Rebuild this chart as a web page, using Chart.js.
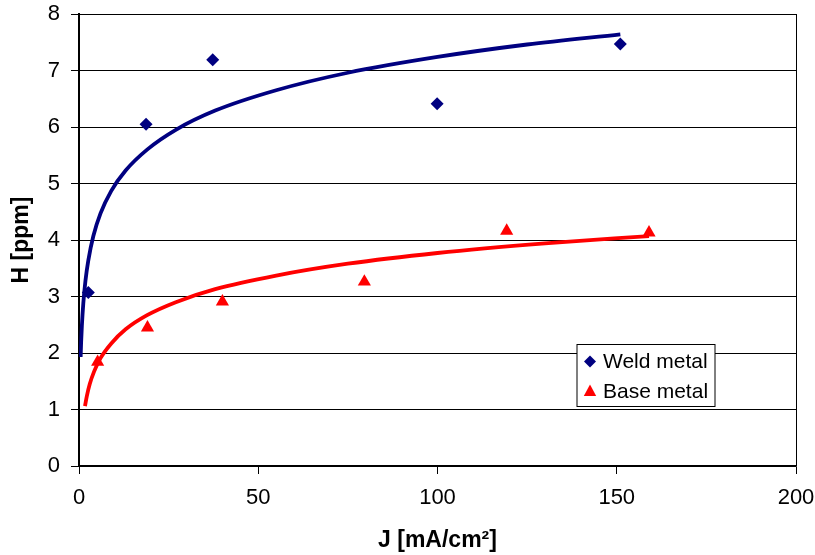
<!DOCTYPE html>
<html lang="en">
<head>
    <meta charset="UTF-8">
    <title>H vs J</title>
    <script src="https://cdn.jsdelivr.net/npm/chart.js"></script>
    <style>
        body { margin: 0; background: #fff; }
        #wrap { width: 815px; height: 555px; }
    </style>
</head>
<body>
<div id="wrap"><canvas id="hChart" width="815" height="555"></canvas></div>
<script>
    // measured points
    const weldJ = [2.6, 18.7, 37.3, 99.9, 151.0];
    const weldH = [3.07, 6.05, 7.19, 6.41, 7.47];
    const baseJ = [5.2, 19.1, 40.0, 79.6, 119.3, 159.0];
    const baseH = [1.84, 2.45, 2.91, 3.26, 4.16, 4.13];

    // trend curves
    const weldFitJ = [0.46, 0.6, 0.8, 1.2, 1.8, 2.6, 4, 6, 9, 13, 19, 27, 38, 55, 75, 100, 125, 151];
    const weldFitH = [1.93, 2.20, 2.48, 2.88, 3.28, 3.64, 4.07, 4.47, 4.87, 5.23, 5.60, 5.95, 6.29, 6.65, 6.96, 7.24, 7.46, 7.64];
    const baseFitJ = [1.67, 2.2, 3, 4.2, 6, 9, 13, 19, 27, 38, 55, 75, 100, 130, 159];
    const baseFitH = [1.06, 1.24, 1.45, 1.67, 1.91, 2.17, 2.42, 2.67, 2.90, 3.13, 3.37, 3.58, 3.77, 3.94, 4.07];

    const xTicks = [0, 50, 100, 150, 200];
    const yTicks = [0, 1, 2, 3, 4, 5, 6, 7, 8];

    const NAVY = '#000080';
    const RED = '#ff0000';
    const FONT = 'Liberation Sans, Arial, sans-serif';

    const pts = (xs, ys) => xs.map((x, i) => ({ x: x, y: ys[i] }));

    // legend box inside the plot, bottom right
    const boxLegend = {
        id: 'boxLegend',
        afterDraw(chart) {
            const ctx = chart.ctx;
            const items = chart.data.datasets.filter(d => d.showLine === false);
            const x0 = 577, y0 = 344.5, w = 138, h = 62;
            ctx.save();
            ctx.fillStyle = '#fff';
            ctx.fillRect(x0, y0, w, h);
            ctx.strokeStyle = '#000';
            ctx.lineWidth = 1;
            ctx.strokeRect(x0, y0, w, h);
            ctx.font = '21px ' + FONT;
            ctx.textBaseline = 'middle';
            items.forEach((d, i) => {
                const cy = y0 + 17 + i * 30;
                const cx = x0 + 13;
                ctx.fillStyle = d.backgroundColor;
                ctx.beginPath();
                if (d.pointStyle === 'rectRot') {
                    ctx.moveTo(cx, cy - 6); ctx.lineTo(cx + 6, cy); ctx.lineTo(cx, cy + 6); ctx.lineTo(cx - 6, cy);
                } else {
                    ctx.moveTo(cx, cy - 7); ctx.lineTo(cx + 6.2, cy + 4.5); ctx.lineTo(cx - 6.2, cy + 4.5);
                }
                ctx.closePath();
                ctx.fill();
                ctx.fillStyle = '#000';
                ctx.fillText(d.label, x0 + 26, cy + 1);
            });
            ctx.restore();
        }
    };

    new Chart(document.getElementById('hChart'), {
        type: 'scatter',
        data: {
            datasets: [
                { label: 'Weld metal', data: pts(weldJ, weldH), showLine: false, pointStyle: 'rectRot', pointRadius: 6.5, pointHoverRadius: 6.5, backgroundColor: NAVY, borderColor: NAVY, borderWidth: 0 },
                { label: 'Base metal', data: pts(baseJ, baseH), showLine: false, pointStyle: 'triangle', pointRadius: 7.6, pointHoverRadius: 7.6, backgroundColor: RED, borderColor: RED, borderWidth: 0 },
                { label: 'Weld fit', data: pts(weldFitJ, weldFitH), showLine: true, pointRadius: 0, borderColor: NAVY, borderWidth: 3.8, cubicInterpolationMode: 'monotone' },
                { label: 'Base fit', data: pts(baseFitJ, baseFitH), showLine: true, pointRadius: 0, borderColor: RED, borderWidth: 3.8, cubicInterpolationMode: 'monotone' }
            ]
        },
        options: {
            responsive: false,
            animation: false,
            layout: { padding: { top: 14, right: 19, bottom: 0, left: 0 } },
            plugins: { legend: { display: false }, tooltip: { enabled: false } },
            scales: {
                x: {
                    type: 'linear', min: 0, max: 200,
                    afterBuildTicks: s => { s.ticks = xTicks.map(v => ({ value: v })); },
                    afterFit: s => { s.height = 89; s.paddingLeft = 0; s.paddingRight = 0; },
                    ticks: { color: '#000', font: { family: FONT, size: 22 }, padding: 11, maxRotation: 0 },
                    grid: {
                        color: c => (c.tick && c.tick.value === 200) ? '#000' : 'rgba(0,0,0,0)',
                        tickColor: '#000', tickLength: 8, lineWidth: 1
                    },
                    border: { color: '#000', width: 1.5 },
                    title: { display: true, text: 'J [mA/cm²]', color: '#000', font: { family: FONT, size: 23, weight: 'bold' }, padding: { top: 0, bottom: 1 } }
                },
                y: {
                    min: 0, max: 8,
                    afterBuildTicks: s => { s.ticks = yTicks.map(v => ({ value: v })); },
                    afterFit: s => { s.width = 79; s.paddingTop = 0; s.paddingBottom = 0; },
                    ticks: { color: '#000', font: { family: FONT, size: 22 }, padding: 11 },
                    grid: { color: '#000', tickColor: '#000', tickLength: 8, lineWidth: 1 },
                    border: { color: '#000', width: 2 },
                    title: { display: true, text: 'H [ppm]', color: '#000', font: { family: FONT, size: 23, weight: 'bold' }, padding: { top: 8, bottom: 0 } }
                }
            }
        },
        plugins: [boxLegend]
    });
</script>
</body>
</html>
